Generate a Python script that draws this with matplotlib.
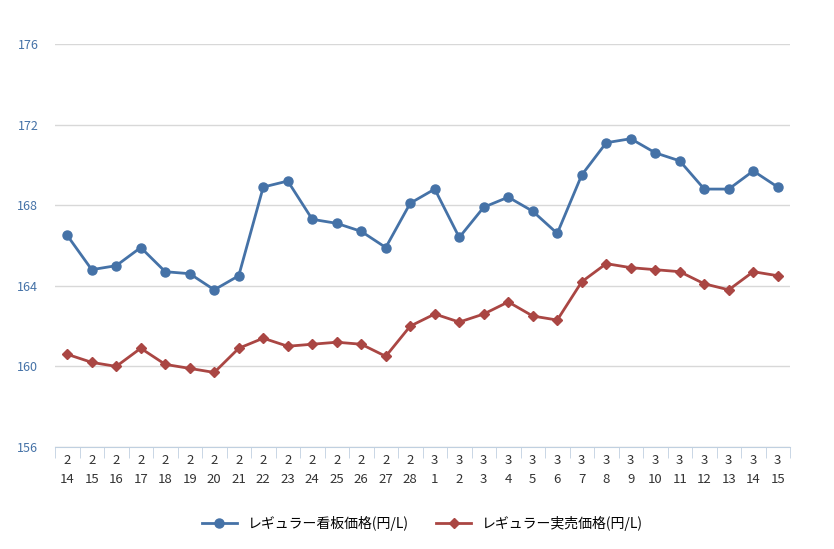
import matplotlib
matplotlib.use("Agg")
import matplotlib.pyplot as plt
import numpy as np

plt.rcParams['font.family'] = ['Noto Sans CJK JP']

months = [2]*15 + [3]*15
days = list(range(14, 29)) + list(range(1, 16))
kanban = [166.5, 164.8, 165.0, 165.9, 164.7, 164.6, 163.8, 164.5, 168.9, 169.2,
          167.3, 167.1, 166.7, 165.9, 168.1, 168.8, 166.4, 167.9, 168.4, 167.7,
          166.6, 169.5, 171.1, 171.3, 170.6, 170.2, 168.8, 168.8, 169.7, 168.9]
jitsubai = [160.6, 160.2, 160.0, 160.9, 160.1, 159.9, 159.7, 160.9, 161.4, 161.0,
            161.1, 161.2, 161.1, 160.5, 162.0, 162.6, 162.2, 162.6, 163.2, 162.5,
            162.3, 164.2, 165.1, 164.9, 164.8, 164.7, 164.1, 163.8, 164.7, 164.5]
labels = [f"{m}\n{d}" for m, d in zip(months, days)]
yticks = [156, 160, 164, 168, 172, 176]

fig = plt.figure(figsize=(8.34, 5.49), dpi=100)
ax = fig.add_axes([55/834, 1-447/549, (790-55)/834, (447-44)/549])
x = np.arange(len(labels))
ax.plot(x, kanban, color='#4572a7', marker='o', markersize=6.5, lw=2, label='レギュラー看板価格(円/L)')
ax.plot(x, jitsubai, color='#aa4643', marker='D', markersize=5, lw=2, label='レギュラー実売価格(円/L)')
ax.set_xlim(-0.5, len(x)-0.5)
ax.set_ylim(156, 176)
ax.set_yticks(yticks)
ax.set_yticklabels([str(v) for v in yticks], color='#4572a7', fontsize=9)
ax.grid(axis='y', color='#d8d8d8', lw=1)
ax.set_axisbelow(True)
ax.set_xticks(x)
ax.set_xticklabels(labels, fontsize=9.5, color='#333333', linespacing=1.6)
ax.set_xticks(np.arange(-0.5, len(x)), minor=True)
ax.tick_params(axis='x', which='major', length=0, pad=5)
ax.tick_params(axis='x', which='minor', length=8, color='#c0d0e0')
ax.tick_params(axis='y', length=0, pad=12)
for s in ['top', 'right', 'left']:
    ax.spines[s].set_visible(False)
ax.spines['bottom'].set_color('#c0d0e0')
ax.legend(loc='upper center', bbox_to_anchor=(0.5, -0.14), ncol=2, frameon=False,
          fontsize=10, handlelength=2.5, columnspacing=2)
fig.savefig('out.png', dpi=100)
